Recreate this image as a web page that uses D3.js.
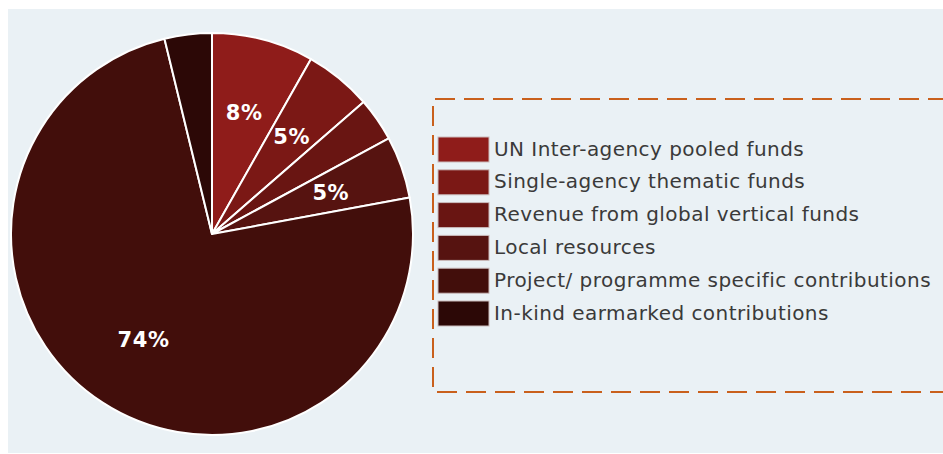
<!DOCTYPE html>
<html>
<head>
<meta charset="utf-8">
<script src="https://cdn.jsdelivr.net/npm/d3@7"></script>
<style>
  body { margin: 0; background: #fff; }
  svg { display: block; }
</style>
</head>
<body>
<svg id="canvas" width="943" height="454"></svg>
<script>
// funding sources, clockwise from 12 o'clock
let categories = [
  "UN Inter-agency pooled funds",
  "Single-agency thematic funds",
  "Revenue from global vertical funds",
  "Local resources",
  "Project/ programme specific contributions",
  "In-kind earmarked contributions",
];
let shares = [8.2, 5.4, 3.5, 5.0, 74.1, 3.8];
let colors = ["#8f1c1a", "#7b1815", "#691512", "#561310", "#420e0b", "#2c0806"];

const width = 943,
  height = 454;
const cx = 212,
  cy = 234,
  radius = 201;

let canvas = d3.select("#canvas");

// light panel behind everything
canvas
  .append("rect")
  .attr("x", 8)
  .attr("y", 9)
  .attr("width", width - 8)
  .attr("height", height - 10)
  .attr("fill", "#eaf1f5");

let pie = d3.pie().sort(null).value((d) => d.value);
let arc = d3.arc().innerRadius(0).outerRadius(radius);
let labelArc = d3.arc().innerRadius(126).outerRadius(126);

let rows = categories.map((name, i) => ({
  name: name,
  value: shares[i],
  color: colors[i],
}));

let g = canvas.append("g").attr("transform", `translate(${cx},${cy})`);

g.selectAll("path")
  .data(pie(rows))
  .enter()
  .append("path")
  .attr("d", arc)
  .attr("fill", (d) => d.data.color)
  .attr("stroke", "#ffffff")
  .attr("stroke-width", 2)
  .attr("stroke-linejoin", "round");

// only the bigger slices carry a percentage
g.selectAll("text")
  .data(pie(rows).filter((d) => d.data.value >= 4.5))
  .enter()
  .append("text")
  .attr("transform", (d) => `translate(${labelArc.centroid(d)})`)
  .attr("text-anchor", "middle")
  .attr("dy", "0.36em")
  .attr("fill", "#ffffff")
  .attr("font-family", "DejaVu Sans, sans-serif")
  .attr("font-weight", "bold")
  .attr("font-size", 21)
  .attr("letter-spacing", 0.6)
  .text((d) => Math.round(d.data.value) + "%");

// dashed legend box (runs off the right edge)
canvas
  .append("path")
  .attr("d", `M${width + 5},99 H433 V392 H${width + 5}`)
  .attr("fill", "none")
  .attr("stroke", "#c9601c")
  .attr("stroke-width", 2)
  .attr("stroke-dasharray", "20,9");

let rowStep = 32.8;
let legend = canvas.append("g").attr("transform", "translate(438,137)");

let item = legend
  .selectAll("g")
  .data(rows)
  .enter()
  .append("g")
  .attr("transform", (d, i) => `translate(0,${i * rowStep})`);

item
  .append("rect")
  .attr("width", 51)
  .attr("height", 25)
  .attr("fill", (d) => d.color)
  .attr("stroke", "#cbbcbc")
  .attr("stroke-width", 1);

item
  .append("text")
  .attr("x", 56)
  .attr("y", 18.5)
  .attr("fill", "#3a3a3a")
  .attr("font-family", "DejaVu Sans, sans-serif")
  .attr("font-size", 20)
  .attr("letter-spacing", 0.45)
  .text((d) => d.name);
</script>
</body>
</html>
